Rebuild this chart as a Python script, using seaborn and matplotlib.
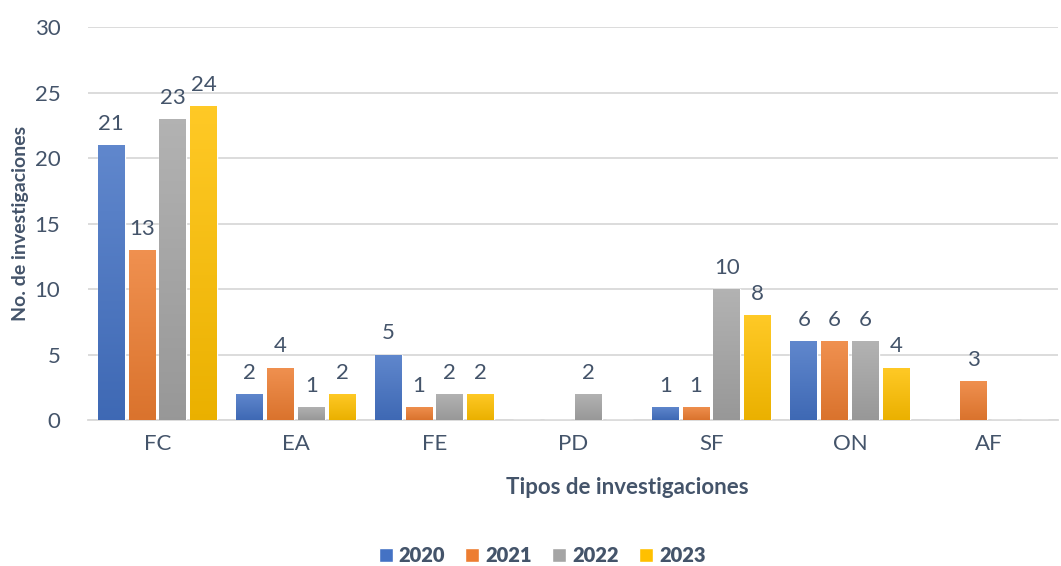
import numpy as np
import pandas as pd
import seaborn as sns
import matplotlib.pyplot as plt
from matplotlib.colors import LinearSegmentedColormap, to_rgb
from matplotlib.patches import Patch

# datos
categorias = ['FC', 'EA', 'FE', 'PD', 'SF', 'ON', 'AF']
anios = ['2020', '2021', '2022', '2023']
v2020 = [21, 2, 5, 0, 1, 6, 0]
v2021 = [13, 4, 1, 0, 1, 6, 3]
v2022 = [23, 1, 2, 2, 10, 6, 0]
v2023 = [24, 2, 2, 0, 8, 4, 0]

colores = ['#4472C4', '#ED7D31', '#A5A5A5', '#FFC000']
texto = '#44546A'

df = pd.DataFrame({
    'Tipo': categorias * 4,
    'Año': [a for a in anios for _ in categorias],
    'Valor': v2020 + v2021 + v2022 + v2023,
})

sns.set_theme(style='white')
plt.rcParams['font.family'] = ['Lato', 'DejaVu Sans']

fig = plt.figure(figsize=(10.61, 5.66), dpi=100)
ax = fig.add_axes([0.083, 0.258, 0.914, 0.694])

sns.barplot(data=df, x='Tipo', y='Valor', hue='Año', palette=colores,
            width=0.89, gap=0.13, ax=ax, legend=False, zorder=3)

# degradado en cada barra (estilo Excel)
def aclarar(c, f):
    r, g, b = to_rgb(c)
    return (r + (1 - r) * f, g + (1 - g) * f, b + (1 - b) * f)

def oscurecer(c, f):
    r, g, b = to_rgb(c)
    return (r * (1 - f), g * (1 - f), b * (1 - f))

for cont, col in zip(ax.containers, colores):
    cmap = LinearSegmentedColormap.from_list('g', [oscurecer(col, 0.08), aclarar(col, 0.15)])
    for bar in cont:
        h = bar.get_height()
        if h <= 0:
            continue
        x0 = bar.get_x()
        w = bar.get_width()
        img = ax.imshow(np.linspace(0, 1, 100).reshape(-1, 1), cmap=cmap,
                        extent=[x0, x0 + w, 0, h], origin='lower',
                        aspect='auto', zorder=3)
        img.set_clip_path(bar)
        bar.set_facecolor('none')
    etiquetas = [str(int(b.get_height())) if b.get_height() > 0 else '' for b in cont]
    ax.bar_label(cont, labels=etiquetas, padding=8, fontsize=16, color=texto)

ax.set_xlim(-0.5, 6.5)
ax.set_ylim(0, 30)
ax.set_yticks(range(0, 31, 5))
ax.grid(axis='y', color='#D9D9D9', linewidth=1.3, zorder=0)
for s in ['top', 'right', 'left']:
    ax.spines[s].set_visible(False)
ax.spines['bottom'].set_color('#D9D9D9')
ax.spines['bottom'].set_linewidth(1.3)
ax.tick_params(axis='both', length=0, labelsize=16, labelcolor=texto)
ax.tick_params(axis='y', pad=20)
ax.tick_params(axis='x', pad=10)

ax.set_xlabel('Tipos de investigaciones', fontsize=16, fontweight='bold', color=texto)
ax.xaxis.set_label_coords(0.556, -0.145)
ax.set_ylabel('No. de investigaciones', fontsize=14, fontweight='bold', color=texto, labelpad=4)

handles = [Patch(facecolor=c, label=a) for c, a in zip(colores, anios)]
leg = fig.legend(handles=handles, loc='center', bbox_to_anchor=(0.511, 0.018), ncol=4,
                 frameon=False, handlelength=0.7, handleheight=0.7, handletextpad=0.3,
                 columnspacing=1.0, prop={'size': 14.5, 'weight': 'heavy'})
for t in leg.get_texts():
    t.set_color(texto)

fig.savefig('out.png', dpi=100)
